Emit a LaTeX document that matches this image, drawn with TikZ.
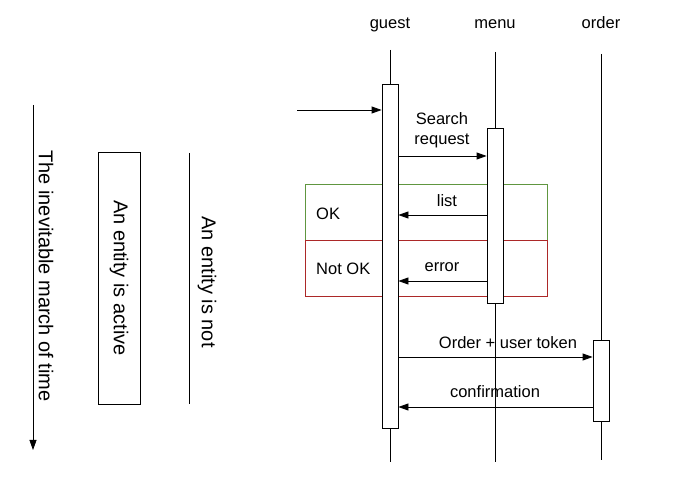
\documentclass[tikz,border=0pt]{standalone}
\usepackage{fontspec}
\setmainfont{Liberation Sans}
\usetikzlibrary{arrows.meta}
\definecolor{okgreen}{RGB}{96,150,64}
\definecolor{nokred}{RGB}{172,40,40}
\begin{document}
\begin{tikzpicture}[x=1pt,y=-1pt,
  every node/.style={font=\fontsize{16.5}{19.5}\selectfont, inner sep=0pt},
  big/.style={font=\fontsize{20}{24}\selectfont},
  lifeline/.style={draw=black, line width=0.8pt},
  actbox/.style={draw=black, fill=white, line width=0.8pt, minimum width=16pt},
  msg/.style={draw=black, line width=0.8pt, -{Triangle[length=10pt,width=7pt]}},
  lbl/.style={align=center},
  frag/.style={line width=1pt, minimum width=242pt, minimum height=56pt}
]
\useasboundingbox (0,0) rectangle (678,486);

% participants
\node[anchor=base] (guest) at (390,29) {guest};
\node[anchor=base] (menu) at (495,29) {menu};
\node[anchor=base] (order) at (601,29) {order};
\coordinate (gtop) at (390,50);  \coordinate (gbot) at (390,462);
\coordinate (mtop) at (495,52);  \coordinate (mbot) at (495,462);
\coordinate (otop) at (601,54);  \coordinate (obot) at (601,460);
\draw[lifeline] (gtop) -- (gbot);
\draw[lifeline] (mtop) -- (mbot);
\draw[lifeline] (otop) -- (obot);

% fragments
\node[frag, draw=okgreen] (okbox) at (426,213) {};
\node[frag, draw=nokred] (nokbox) at (426,269) {};
\node[anchor=west] (oklbl) at (316,214) {OK};
\node[anchor=west] (noklbl) at (316,269) {Not OK};

% activation boxes
\node[actbox, minimum height=344pt] (ga) at (390,256) {};
\node[actbox, minimum height=175pt] (ma) at (495,215.5) {};
\node[actbox, minimum height=81pt] (oa) at (601,380.5) {};

% messages
\coordinate (start) at (297,110);
\draw[msg] (start) -- (ga.west |- start);

\draw[msg] (ga.east |- 0,156) -- (ma.west |- 0,156);
\node[lbl] (sr) at (442,130) {Search\\request};

\draw[msg] (ma.west |- 0,215) -- (ga.east |- 0,215);
\node (list) at (447,201) {list};

\draw[msg] (ma.west |- 0,281) -- (ga.east |- 0,281);
\node (err) at (442,267) {error};

\draw[msg] (ga.east |- 0,357) -- (oa.west |- 0,357);
\node (tok) at (508,343) {Order + user token};
\draw[lifeline] (495,335) -- (495,360);

\draw[msg] (oa.west |- 0,407) -- (ga.east |- 0,407);
\node (conf) at (495,392) {confirmation};

% legend
\coordinate (ttop) at (33,105);
\coordinate (tbot) at (33,450);
\draw[msg] (ttop) -- (tbot);
\node[big, rotate=-90] (tlbl) at (46,276) {The inevitable march of time};

\node[draw=black, line width=0.8pt, minimum width=42pt, minimum height=252pt] (act) at (119,278) {};
\node[big, rotate=-90] (actlbl) at (119,278) {An entity is active};

\coordinate (ntop) at (189,153);
\coordinate (nbot) at (189,404);
\draw[lifeline] (ntop) -- (nbot);
\node[big, rotate=-90] (nlbl) at (207,282) {An entity is not};
\end{tikzpicture}
\end{document}
